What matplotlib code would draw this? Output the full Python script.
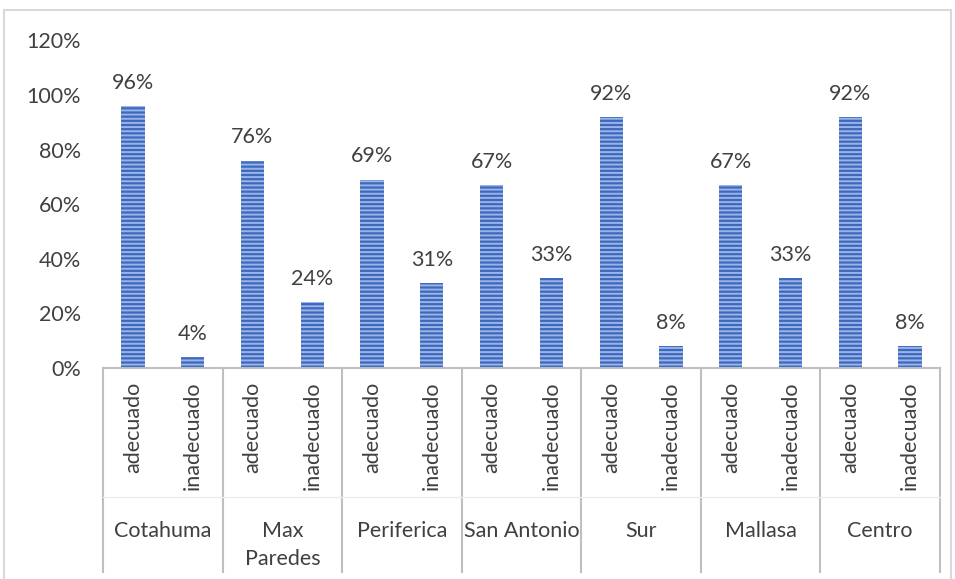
import matplotlib
matplotlib.use("Agg")
import matplotlib.pyplot as plt
from matplotlib.patches import Rectangle
from matplotlib.lines import Line2D
import numpy as np

plt.rcParams['font.family'] = ['Lato', 'DejaVu Sans']

groups = ["Cotahuma", "Max\nParedes", "Periferica", "San Antonio", "Sur", "Mallasa", "Centro"]
subcats = ["adecuado", "inadecuado"]
values = [
    [96, 4],
    [76, 24],
    [69, 31],
    [67, 33],
    [92, 8],
    [67, 33],
    [92, 8],
]
yticks = [0, 20, 40, 60, 80, 100, 120]

W, H = 955, 579
fig = plt.figure(figsize=(W / 100, H / 100), dpi=100)
ax = fig.add_axes([103 / W, 1 - 368 / H, 837 / W, (368 - 40.4) / H])

txt = "#404040"
bar_face = "#3e69bb"
stripe = "#9ab4ea"
fs = 15.5

n = len(groups) * len(subcats)
xpos = np.arange(n)
flat = [v for g in values for v in g]
bw = 0.39
ax.bar(xpos, flat, width=bw, color=bar_face, linewidth=0, zorder=2)
plt.rcParams['hatch.linewidth'] = 1.4
ax.bar(xpos, flat, width=bw, color="none", edgecolor=stripe, hatch="----",
       linewidth=0, zorder=3)

for x, v in zip(xpos, flat):
    ax.annotate(f"{v}%", (x, v), xytext=(0, 9.5), textcoords="offset points",
                ha="center", va="bottom", fontsize=fs, color=txt)

ax.set_xlim(-0.5, n - 0.5)
ax.set_ylim(0, 120)
ax.set_yticks(yticks)
ax.set_yticklabels([f"{t}%" for t in yticks], fontsize=fs, color=txt)
ax.tick_params(axis="y", length=0, pad=16)
ax.set_xticks([])
for s in ["top", "right", "left"]:
    ax.spines[s].set_visible(False)
ax.spines["bottom"].set_color("#bfbfbf")
ax.spines["bottom"].set_linewidth(1.5)

# category axis: sub-labels, group labels and dividers
trans = ax.get_xaxis_transform()


def ay(py):
    """Pixel row -> axes fraction along y."""
    y0 = 1 - 368 / H
    h = (368 - 40.4) / H
    return ((1 - py / H) - y0) / h


for x, lab in zip(xpos, subcats * len(groups)):
    ax.text(x, ay(382), lab, transform=trans, rotation=90, ha="center", va="top",
            fontsize=fs, color=txt, clip_on=False)

for i, g in enumerate(groups):
    ax.text(2 * i + 0.5, ay(521), g, transform=trans, ha="center", va="top",
            fontsize=fs, color=txt, linespacing=1.5, clip_on=False)

for i in range(len(groups) + 1):
    xd = 2 * i - 0.5
    ax.add_line(Line2D([xd, xd], [0, ay(572)], transform=trans, color="#bfbfbf",
                       linewidth=1.5, clip_on=False))
ax.add_line(Line2D([-0.5, n - 0.5], [ay(497), ay(497)], transform=trans,
                   color="#ececec", linewidth=1.0, clip_on=False))

# chart frame
fig.patches.append(Rectangle((4 / W, -0.05), 947 / W, 1.05 - 10 / H,
                             transform=fig.transFigure, fill=False,
                             edgecolor="#d9d9d9", linewidth=1.5))

fig.savefig("out.png", dpi=100)
